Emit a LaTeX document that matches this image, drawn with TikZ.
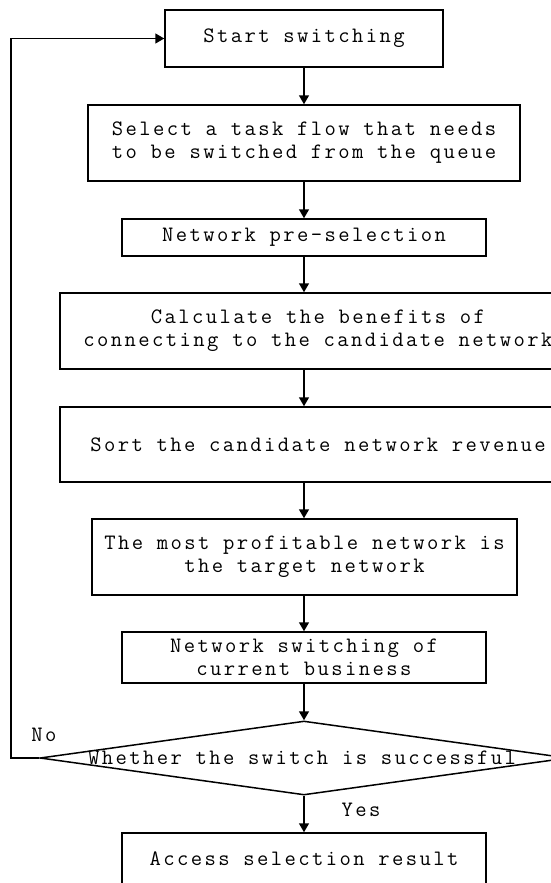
\documentclass[tikz,border=0pt]{standalone}
\usepackage{fontspec}
\setmonofont{Latin Modern Mono}[LetterSpace=11]
\usetikzlibrary{arrows.meta,shapes.geometric,positioning}

\tikzset{
	box/.style={draw, line width=1.5pt, align=center, inner sep=0pt, font=\ttfamily\fontsize{22}{23}\selectfont},
	decbox/.style={draw, diamond, line width=1.5pt, inner sep=0pt},
	txt/.style={font=\ttfamily\fontsize{22}{23}\selectfont, inner sep=0pt},
	flow/.style={line width=1.5pt, -{Triangle[length=9pt,width=10pt]}}
}

\begin{document}
\begin{tikzpicture}[x=1pt,y=-1pt]
		\useasboundingbox (0,0) rectangle (551,883);
		\clip (0,0) rectangle (551,883);
		
		\node[box, minimum width=278pt, minimum height=57pt] (start) at (304,38.5) {Start switching};
		\node[box, minimum width=432pt, minimum height=76pt] (select) at (304,143) {Select a task flow that needs\\to be switched from the queue};
		\node[box, minimum width=364pt, minimum height=37pt] (presel) at (304,237.5) {Network pre-selection};
		\node[box, minimum width=516pt, minimum height=76pt] (calc) at (318,331) {Calculate the benefits of\\connecting to the candidate network};
		\node[box, minimum width=516pt, minimum height=75pt] (sort) at (318,444.5) {Sort the candidate network revenue};
		\node[box, minimum width=425pt, minimum height=76pt] (profit) at (304.5,557) {The most profitable network is\\the target network};
		\node[box, minimum width=364pt, minimum height=51pt] (switch) at (304,657.5) {Network switching of\\current business};
		\node[decbox, minimum width=528pt, minimum height=74pt] (dec) at (304,758) {};
		\node[txt] (dectext) at (302,758) {Whether the switch is successful};
		\node[box, minimum width=364pt, minimum height=52pt] (access) at (304,859) {Access selection result};
		
		\coordinate (axis) at (304,0);
		\coordinate (back) at (11,758);
		
		\draw[flow] (start) -- (select);
		\draw[flow] (select) -- (presel);
		\draw[flow] (presel) -- (presel.south |- calc.north);
		\draw[flow] (calc.south -| axis) -- (sort.north -| axis);
		\draw[flow] (sort.south -| axis) -- (profit.north -| axis);
		\draw[flow] (profit.south -| axis) -- (switch.north -| axis);
		\draw[flow] (switch) -- (dec.north);
		\draw[flow] (dec.south) -- (access);
		\draw[flow] (dec.west) -- (back) |- (start.west);
		
		\node[txt] (no) at (44,735) {No};
		\node[txt] (yes) at (361,810) {Yes};
\end{tikzpicture}
\end{document}
